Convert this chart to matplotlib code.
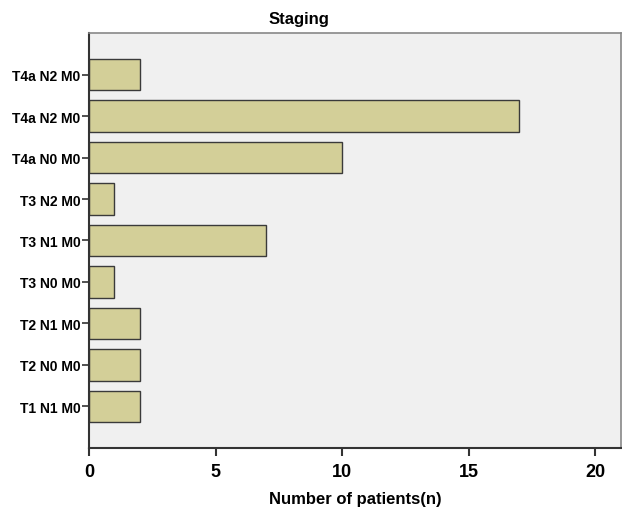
import matplotlib.pyplot as plt
import numpy as np

# data
stages = ["T1 N1 M0", "T2 N0 M0", "T2 N1 M0", "T3 N0 M0", "T3 N1 M0",
          "T3 N2 M0", "T4a N0 M0", "T4a N2 M0", "T4a N2 M0"]
patients = [2, 2, 2, 1, 7, 1, 10, 17, 2]

plt.rcParams['font.family'] = ['Liberation Sans', 'DejaVu Sans']

fig = plt.figure(figsize=(6.22, 5.10), dpi=100)
ax = fig.add_axes([0.143, 0.12, 0.855, 0.813])
ax.set_facecolor("#f0f0f0")

pos = np.arange(len(stages))
ax.barh(pos, patients, height=0.76, color="#d3cf98", edgecolor="#3a3a3a", linewidth=1.0)

ax.set_xlim(0, 21)
ax.set_ylim(-1, 9)
ax.set_xticks([0, 5, 10, 15, 20])
ax.set_yticks(pos)
ax.set_yticklabels(stages, fontsize=10, fontweight="bold")
for lab in ax.get_xticklabels():
    lab.set_fontsize(13)
    lab.set_fontweight("bold")
ax.tick_params(axis="x", length=6, width=1.5, color="#333333", pad=5)
ax.tick_params(axis="y", length=5, width=1.2, color="#333333", pad=1)

for s in ["left", "bottom"]:
    ax.spines[s].set_color("#333333")
    ax.spines[s].set_linewidth(1.5)
for s in ["top", "right"]:
    ax.spines[s].set_color("#888888")
    ax.spines[s].set_linewidth(1.2)

fig.text(0.481, 0.961, "Staging", ha="center", va="center", fontsize=12, fontweight="bold")
ax.set_xlabel("Number of patients(n)", fontsize=12, fontweight="bold", labelpad=8)

fig.savefig("out.png", dpi=100)
